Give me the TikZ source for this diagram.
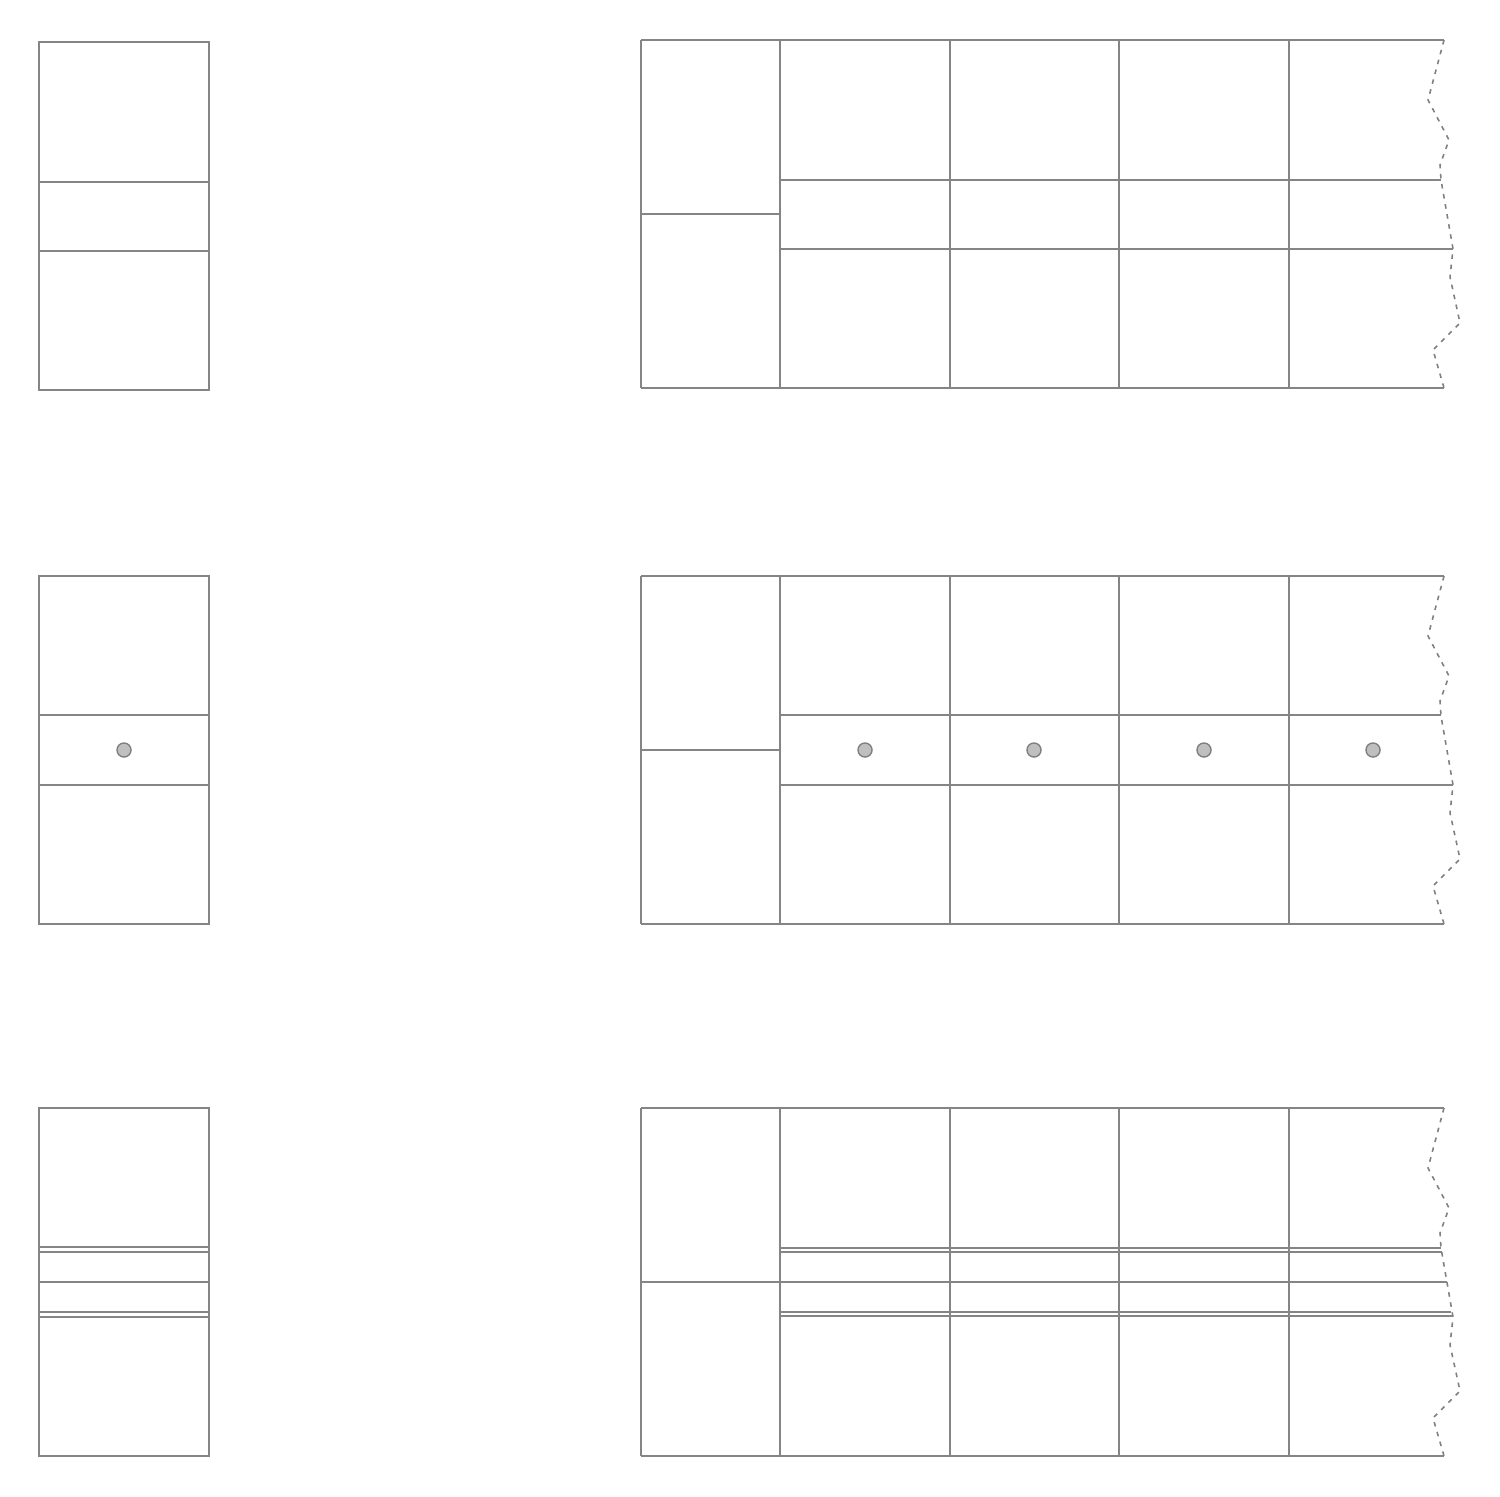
\documentclass[tikz,border=0pt]{standalone}
\begin{document}
\begin{tikzpicture}[x=0.01cm,y=-0.01cm,
  gridline/.style={draw=black!48,line width=0.45pt},
  tornedge/.style={draw=black!50,line width=0.45pt,dash pattern=on 1.3pt off 1.6pt},
  dotmark/.style={circle,draw=black!50,fill=black!25,line width=0.4pt,minimum size=4.0pt,inner sep=0pt}]
\useasboundingbox (0,0) rectangle (1500,1497);
% ---------- small boxes ----------
\draw[gridline] (39,42) rectangle (209,390);
\draw[gridline] (39,182) -- (209,182) (39,251) -- (209,251);
\draw[gridline] (39,576) rectangle (209,924);
\draw[gridline] (39,715) -- (209,715) (39,785) -- (209,785);
\draw[gridline] (39,1108) rectangle (209,1456);
\draw[gridline] (39,1247) -- (209,1247) (39,1252) -- (209,1252)
                (39,1282) -- (209,1282)
                (39,1312) -- (209,1312) (39,1317) -- (209,1317);
\node[dotmark] (s2) at (124,750) {};
% ---------- big grids ----------
\foreach \oy in {40,576,1108}{
  \begin{scope}[yshift=\oy*(-0.01cm)]
    \draw[gridline] (641,0) -- (1444,0) (641,348) -- (1444,348);
    \foreach \xx in {641,780,950,1119,1289}{\draw[gridline] (\xx,0) -- (\xx,348);}
    \draw[tornedge] (1444,0) -- (1428,60) -- (1449,100) -- (1440,125) -- (1441,140)
      -- (1453,209) -- (1450,237) -- (1460,283) -- (1433,310) -- (1444,348);
  \end{scope}
}
% row 1
\draw[gridline] (641,214) -- (780,214);
\draw[gridline] (780,180) -- (1441,180) (780,249) -- (1453,249);
% row 2
\draw[gridline] (641,750) -- (780,750);
\draw[gridline] (780,715) -- (1441,715) (780,785) -- (1453,785);
\foreach \xx/\nm in {865/d1,1034/d2,1204/d3,1373/d4}{\node[dotmark] (\nm) at (\xx,750) {};}
% row 3
\draw[gridline] (641,1282) -- (1447,1282);
\draw[gridline] (780,1248) -- (1441,1248) (780,1252) -- (1442,1252)
                (780,1312) -- (1451,1312) (780,1316) -- (1452,1316);
\end{tikzpicture}
\end{document}
